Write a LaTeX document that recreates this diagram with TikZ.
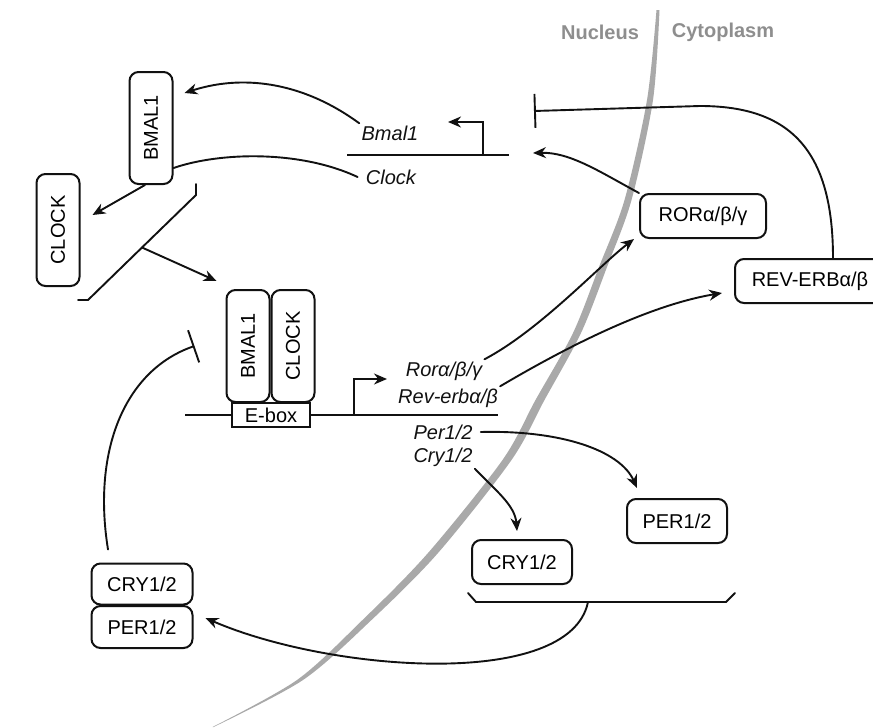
\documentclass[tikz,border=0pt]{standalone}
\usepackage{fontspec}
\setsansfont{Liberation Sans}
\usepackage{graphicx}
\usepackage{tikz}
\usetikzlibrary{arrows.meta,calc}
\definecolor{ink}{HTML}{111111}
\definecolor{membrane}{HTML}{A9A9A9}
\definecolor{compart}{HTML}{8E8E8E}
\tikzset{
  prot/.style={draw=ink, fill=white, line width=1pt, rounded corners=4.5pt, inner sep=1pt, font=\sffamily\fontsize{10}{12}\selectfont},
  vprot/.style={prot, minimum width=21.5pt, minimum height=56pt},
  hprot/.style={prot, minimum height=22pt},
  ebox/.style={draw=ink, fill=white, line width=1pt, minimum width=39pt, minimum height=12pt, inner sep=1pt, font=\sffamily\fontsize{10}{12}\selectfont},
  gene/.style={inner sep=1pt, text=ink, font=\sffamily\itshape\fontsize{10}{12}\selectfont},
  comp/.style={text=compart, font=\sffamily\bfseries\fontsize{10}{12}\selectfont},
  dna/.style={draw=ink, line width=1pt},
  link/.style={draw=ink, line width=0.95pt, line cap=round},
  act/.style={link, -{Stealth[length=6.5pt,width=5.5pt]}},
  inh/.style={link, -{Bar[width=17pt]}},
  memb/.style={fill=membrane},
}

\begin{document}
\begin{tikzpicture}[x=0.5pt, y=-0.5pt]
\useasboundingbox (0,0) rectangle (873,728);

% nuclear envelope
\fill[memb] plot[smooth] coordinates {(659.5,10) (653,100) (631.5,200) (607,267) (581,333) (544.5,400) (511.5,460) (438,553) (371.5,620) (303,680) (213.5,727)}
  -- plot[smooth] coordinates {(212.5,727) (297,680) (362.5,620) (428,553) (502.5,460) (535.5,400) (573,333) (599,267) (624.5,200) (647,100) (656.5,10)} -- cycle;
\node[comp] (nucLab) at (600,32) {Nucleus};
\node[comp] (cytLab) at (723,32) {Cytoplasm};

% DNA strands
\coordinate (dnaTopL) at (347,155);
\coordinate (dnaTopR) at (509,155);
\coordinate (tssTop) at (483,155);
\coordinate (dnaBotL) at (185,415);
\coordinate (dnaBotR) at (498,415);
\coordinate (tssBot) at (354,415);
\draw[dna] (dnaTopL) -- (dnaTopR);
\draw[dna] (dnaBotL) -- (dnaBotR);
\draw[dna, -{Stealth[length=6.5pt,width=5.5pt]}] (tssTop) -- ++(0,-33) -- ++(-35,0);
\draw[dna, -{Stealth[length=6.5pt,width=5.5pt]}] (tssBot) -- ++(0,-36) -- ++(33,0);

% proteins
\node[vprot] (bmalTop) at (151,128) {\rotatebox{90}{BMAL1}};
\node[vprot] (clockLeft) at (58,230) {\rotatebox{90}{CLOCK}};
\node[vprot] (bmalDna) at (248,346) {\rotatebox{90}{BMAL1}};
\node[vprot] (clockDna) at (293,346) {\rotatebox{90}{CLOCK}};
\node[ebox] (eBox) at (271,415) {E-box};
\node[hprot, minimum width=63pt] (ror) at (703,216) {RORα/β/γ};
\node[hprot, minimum width=75pt] (revErb) at (810,281) {REV-ERBα/β};
\node[hprot, minimum width=50pt] (perRight) at (677,521) {PER1/2};
\node[hprot, minimum width=50pt] (cryRight) at (522,562) {CRY1/2};
\node[hprot, minimum width=50.5pt, minimum height=20.5pt] (cryLeft) at (142,584) {CRY1/2};
\node[hprot, minimum width=50.5pt, minimum height=21pt] (perLeft) at (142,627) {PER1/2};

% genes
\node[gene] (bmalGene) at (390,133) {Bmal1};
\node[gene] (clockGene) at (391,177) {Clock};
\node[gene] (roraGene) at (444,371) {Rorα/β/γ};
\node[gene] (revGene) at (448,398) {Rev-erbα/β};
\node[gene] (perGene) at (443,432) {Per1/2};
\node[gene] (cryGene) at (443,457) {Cry1/2};

% brackets
\coordinate (brkMid) at (142,247.5);
\coordinate (brkLow) at (588,602);
\draw[link] (196,184) -- (196,195) -- (88,300) -- (78,300);
\draw[link] (468,593) -- (476,602) -- (726,602) -- (735,593);

% activation
\draw[act] (bmalGene.north west) .. controls (300,80) and (240,75) .. ([shift={(5.5pt,17.5pt)}]bmalTop.east);
\draw[link] ([xshift=-3pt]clockGene.west) .. controls (300,150) and (220,152) .. ([yshift=-20pt]bmalTop.east);
\draw[act] ([xshift=-3pt]bmalTop.south) -- ([shift={(6pt,7.5pt)}]clockLeft.east);
\draw[act] (brkMid) -- ([shift={(-4.5pt,4pt)}]bmalDna.north west);
\draw[act] (ror.north west) .. controls (600,172) and (570,152) .. ([shift={(12pt,1pt)}]dnaTopR);
\draw[act] (roraGene.north east) .. controls (540,330) and (600,265) .. ([xshift=-2.5pt]ror.south west);
\draw[act] (revGene.north east) .. controls (570,345) and (650,305) .. ([shift={(-6pt,-6pt)}]revErb.west);
\draw[act] ([xshift=3pt]perGene.east) .. controls (560,430) and (620,450) .. ([shift={(5.5pt,5pt)}]perRight.north west);
\draw[act] (cryGene.south east) .. controls (495,490) and (515,505) .. ([shift={(-2.5pt,4pt)}]cryRight.north);
\draw[act] (brkLow) .. controls (570,690) and (330,672) .. ([shift={(6pt,4.5pt)}]perLeft.east);

% repression
\draw[inh] ([xshift=11.5pt]revErb.north) .. controls (833,150) and (790,106) .. (700,106) -- ([shift={(12.5pt,22pt)}]dnaTopR);
\draw[inh] ([shift={(-17pt,6.5pt)}]cryLeft.north) .. controls (92,450) and (125,370) .. ([xshift=-15.5pt]bmalDna.west);
\end{tikzpicture}
\end{document}
